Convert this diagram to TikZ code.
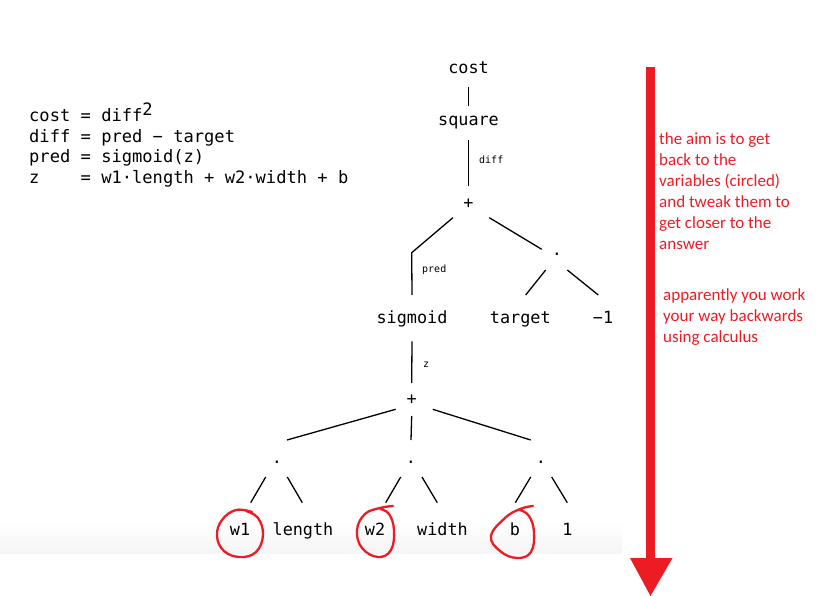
\documentclass[tikz,border=0pt]{standalone}
\usepackage{fontspec}
\setmainfont{DejaVu Sans Mono}
\newfontfamily\notefont{Carlito}
\usetikzlibrary{calc}
\definecolor{paintred}{HTML}{ED1C24}
\tikzset{
  eqn/.style={anchor=base west, inner sep=0pt, font=\fontsize{17.1pt}{20pt}\selectfont},
  tnode/.style={anchor=base, inner sep=0pt, font=\fontsize{16.8pt}{20pt}\selectfont},
  opnode/.style={anchor=center, inner sep=0pt, font=\fontsize{16.8pt}{20pt}\selectfont},
  small/.style={anchor=base west, inner sep=0pt, font=\fontsize{10pt}{12pt}\selectfont},
  edge/.style={line width=1.3pt},
  note/.style={anchor=base west, inner sep=0pt, text=paintred, font=\notefont\fontsize{17pt}{21pt}\selectfont},
  ring/.style={paintred, line width=2.3pt, line cap=round, line join=round}
}
\begin{document}
\begin{tikzpicture}[x=1pt,y=-1pt]
\useasboundingbox (0,0) rectangle (833,596);
\fill[white] (0,0) rectangle (833,596);
\shade[top color=white, bottom color=gray!8] (0,522) rectangle (622,553);

% equations
\node[eqn] (eq1) at (29,122) {cost = diff\raisebox{6pt}{2}};
\node[eqn] (eq2) at (29,142.5) {diff = pred − target};
\node[eqn] (eq3) at (29,163) {pred = sigmoid(z)};
\node[eqn] (eq4) at (29,183.5) {z~~~~= w1·length + w2·width + b};

% tree nodes
\node[tnode] (cost) at (468.5,74) {cost};
\node[tnode] (square) at (468.5,126) {square};
\node[opnode] (plus1) at (468.5,203.3) {+};
\node[tnode] (dotA) at (557,255) {.};
\node[tnode] (sigmoid) at (412,323.3) {sigmoid};
\node[tnode] (target) at (520.3,323.3) {target};
\node[tnode] (m1) at (603,323.3) {−1};
\node[opnode] (plus2) at (411.7,400) {+};
\node[tnode] (dot1) at (277,463) {.};
\node[tnode] (dot2) at (411,463) {.};
\node[tnode] (dot3) at (541,463) {.};
\node[tnode] (w1) at (240,535) {w1};
\node[tnode] (length) at (303,535) {length};
\node[tnode] (w2) at (375,535) {w2};
\node[tnode] (width) at (442.5,535) {width};
\node[tnode] (b) at (515,535) {b};
\node[tnode] (one) at (567.5,535) {1};
\coordinate (corner) at (411.7,252.7);

% edge labels
\node[small] (ldiff) at (479,164) {diff};
\node[small] (lpred) at (422,272.5) {pred};
\node[small] (lz) at (423,367) {z};

% edges
\draw[edge] ($(cost.base)+(0,13)$) -- ($(square.base)+(0,-20)$);
\draw[edge] ($(square.base)+(0,14)$) -- ($(plus1.center)+(0,-17)$);
\draw[edge] ($(plus1.center)+(-15.6,14.4)$) -- (corner) -- ($(sigmoid.base)+(0,-28.3)$);
\draw[edge] ($(plus1.center)+(20.8,14.4)$) -- ($(dotA.base)+(-15.3,-5.7)$);
\draw[edge] ($(dotA.base)+(-11.3,15)$) -- ($(target.base)+(5.4,-28.3)$);
\draw[edge] ($(dotA.base)+(10.3,15)$) -- ($(m1.base)+(-4.7,-28.3)$);
\draw[edge] ($(sigmoid.base)+(0,18)$) -- ($(plus2.center)+(0,-17)$);
\draw[edge] ($(plus2.center)+(-16,9.3)$) -- ($(dot1.base)+(10,-23)$);
\draw[edge] ($(plus2.center)+(0,16)$) -- ($(dot2.base)+(0,-23)$);
\draw[edge] ($(plus2.center)+(21,9.3)$) -- ($(dot3.base)+(-10.3,-23)$);
\draw[edge] ($(dot1.base)+(-11.3,14)$) -- ($(w1.base)+(10.7,-32.3)$);
\draw[edge] ($(dot1.base)+(10.3,14)$) -- ($(length.base)+(-0.7,-32.3)$);
\draw[edge] ($(dot2.base)+(-10.3,14)$) -- ($(w2.base)+(10.7,-32.3)$);
\draw[edge] ($(dot2.base)+(11,14)$) -- ($(width.base)+(-5.2,-32.3)$);
\draw[edge] ($(dot3.base)+(-10.3,14)$) -- ($(b.base)+(0.3,-32.3)$);
\draw[edge] ($(dot3.base)+(10.7,14)$) -- ($(one.base)+(-0.2,-32.3)$);

% red circles
\draw[ring] plot[smooth, tension=0.7] coordinates {(252,512) (236,510) (222,520) (217,536) (224,551) (240,557) (256,552) (263,535) (258,518) (246,511)};
\draw[ring] plot[smooth, tension=0.7] coordinates {(393,506) (380,508) (365,514) (357,530) (362,548) (378,557) (391,550) (394,530) (389,514) (380,509)};
\draw[ring] plot[smooth, tension=0.7] coordinates {(533,506) (520,509) (505,518) (491,536) (500,551) (517,558) (531,552) (534,532) (529,516) (520,510)};

% red arrow
\fill[paintred] (646,66.7) rectangle (655,560);
\fill[paintred] (630,558) -- (672.5,558) -- (650.5,596) -- cycle;

% notes
\node[note] (n1) at (659,145) {the aim is to get};
\node[note] (n2) at (659,166) {back to the};
\node[note] (n3) at (659,187) {variables (circled)};
\node[note] (n4) at (659,208) {and tweak them to};
\node[note] (n5) at (659,229) {get closer to the};
\node[note] (n6) at (659,250) {answer};
\node[note] (n7) at (663,300) {apparently you work};
\node[note] (n8) at (663,321) {your way backwards};
\node[note] (n9) at (663,342) {using calculus};
\end{tikzpicture}
\end{document}
